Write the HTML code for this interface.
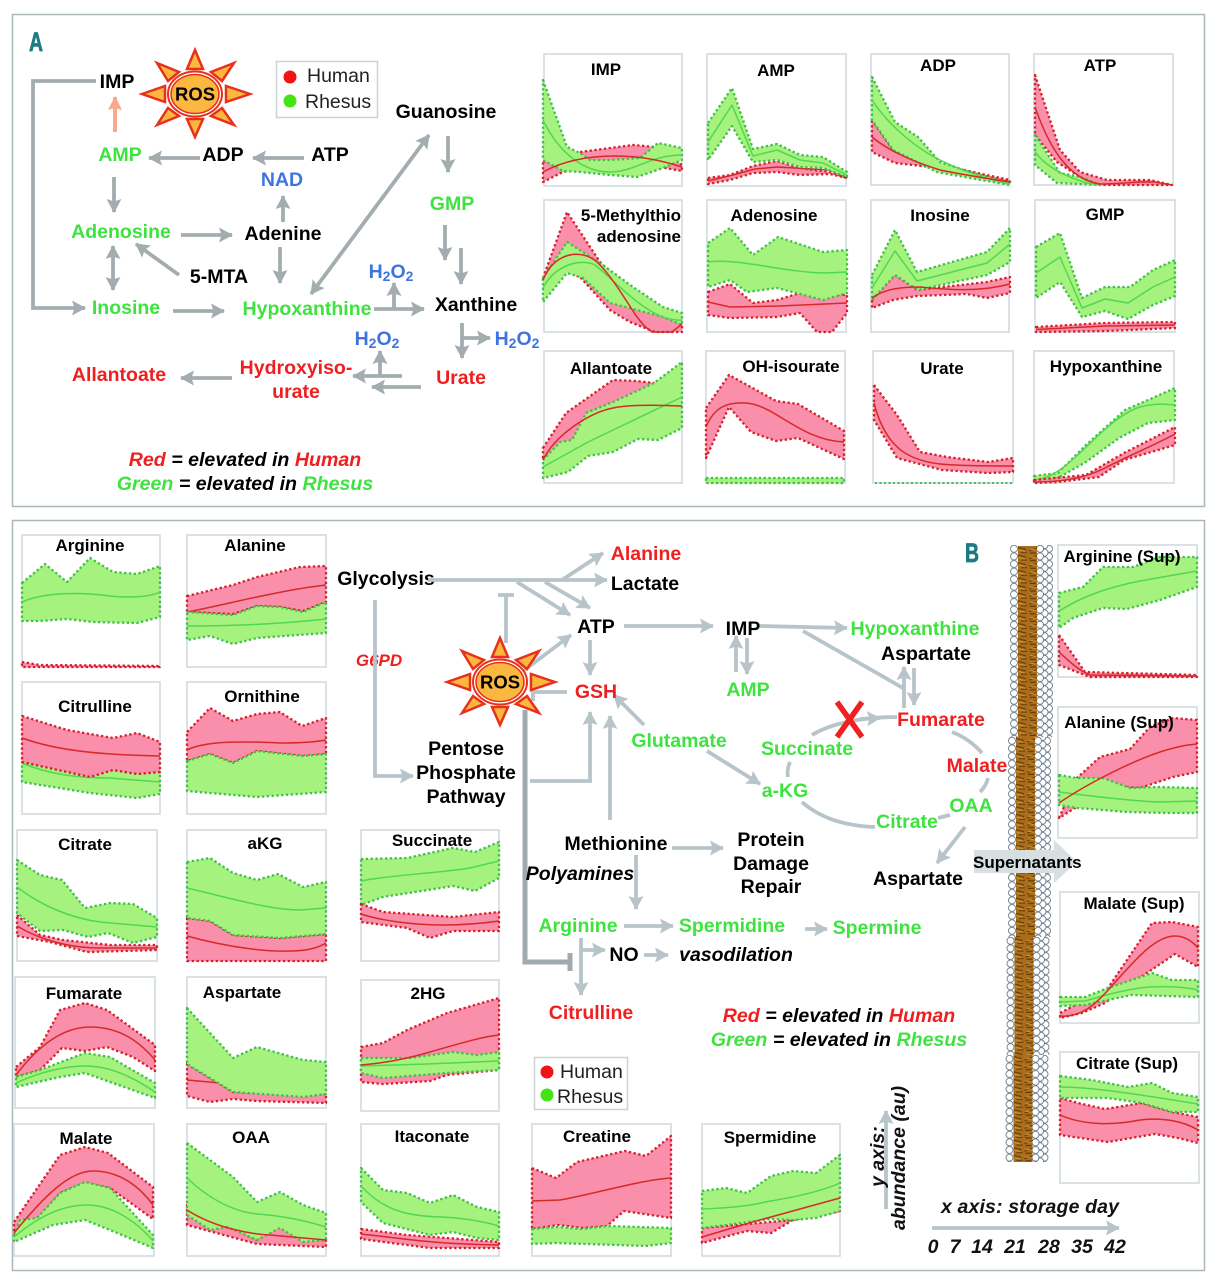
<!DOCTYPE html>
<html><head><meta charset="utf-8"><style>
html,body{margin:0;padding:0;background:#fff}
svg{display:block}
text{font-family:"Liberation Sans",sans-serif;font-weight:bold}
.f{fill:#fff;stroke:#d3dde1;stroke-width:1.7}
.p{fill:#f98fab;stroke:#d81e28;stroke-width:2.300;stroke-dasharray:2.300 2.500;stroke-linejoin:round}
.v{fill:#a6f27e;stroke:#3fc048;stroke-width:2.300;stroke-dasharray:2.300 2.500;stroke-linejoin:round}
.rl{fill:none;stroke:#d62a26;stroke-width:1.500;stroke-linejoin:round}
.gl{fill:none;stroke:#50d850;stroke-width:1.500;stroke-linejoin:round}
.t{font-size:17px;text-anchor:middle;fill:#000}
.n{font-size:19.500px;text-anchor:middle;fill:#000}
.G{fill:#3fe33f}.R{fill:#f01f1f}.U{fill:#3f74e0}.K{fill:#000}
.A{fill:none;stroke:#a3adb0;stroke-width:3.800;marker-end:url(#a)}
.B{fill:none;stroke:#b7c4c9;stroke-width:3.800;marker-end:url(#b)}
.AD{marker-start:url(#a)}
.L{fill:none;stroke:#b7c4c9;stroke-width:3.800}
.e{font-size:19.600px;font-style:italic;text-anchor:middle}
.leg{font-size:19.500px;font-weight:normal;fill:#222}
.ax{font-size:19.500px;font-style:italic;fill:#111}
.sb{font-size:14px}
</style></head><body>
<svg xmlns="http://www.w3.org/2000/svg" width="1219" height="1280" viewBox="0 0 1219 1280">
<defs>
<marker id="a" markerUnits="userSpaceOnUse" markerWidth="15" markerHeight="16" refX="13" refY="8" orient="auto-start-reverse"><path d="M0 0.500L14 8L0 15.500L2.500 8Z" fill="#a3adb0"/></marker>
<marker id="b" markerUnits="userSpaceOnUse" markerWidth="15" markerHeight="16" refX="13" refY="8" orient="auto-start-reverse"><path d="M0 0.500L14 8L0 15.500L2.500 8Z" fill="#b7c4c9"/></marker>
<marker id="o" markerUnits="userSpaceOnUse" markerWidth="16" markerHeight="16" refX="13" refY="8" orient="auto"><path d="M0 1L14 8L0 15L2 8Z" fill="#f8a98c"/></marker>
<g id="sun">
<g fill="#fbb740" stroke="#e8301a" stroke-width="2.500" stroke-linejoin="miter">
<polygon points="0,-44 -8,-25 8,-25"/><polygon points="0,43 -8,25 8,25"/>
<polygon points="-53,0 -30,-8 -30,8"/><polygon points="55,0 31,-8 31,8"/>
<polygon points="39,-31 16,-22 27,-13"/><polygon points="-38,-31 -16,-22 -27,-13"/>
<polygon points="-38,31 -27,14 -16,22"/><polygon points="39,31 27,14 16,22"/>
</g>
<ellipse rx="27" ry="22.500" fill="#fff" stroke="#e8301a" stroke-width="2"/>
<ellipse rx="24" ry="19.500" fill="#fbb740" stroke="#e8301a" stroke-width="1.500"/>
</g>
<pattern id="beads" width="8" height="7.600" patternUnits="userSpaceOnUse"><circle cx="4" cy="3.800" r="3.500" fill="#fff" stroke="#6b7d8c" stroke-width=".9"/></pattern>
<pattern id="beadsR" width="17" height="7.600" patternUnits="userSpaceOnUse">
<circle cx="13" cy="3.800" r="3.500" fill="#fff" stroke="#6b7d8c" stroke-width=".9"/>
<circle cx="8.500" cy="0" r="3.500" fill="#fff" stroke="#6b7d8c" stroke-width=".9"/>
<circle cx="8.500" cy="7.600" r="3.500" fill="#fff" stroke="#6b7d8c" stroke-width=".9"/>
<circle cx="4" cy="3.800" r="3.500" fill="#fff" stroke="#6b7d8c" stroke-width=".9"/></pattern>
<pattern id="stripes" width="20" height="7.600" patternUnits="userSpaceOnUse"><rect width="20" height="7.600" fill="#ab6c1c"/><path d="M0 1.500L8 3.500M11 5L19 2M3 6.500L9 6.500M12 7L18 7" stroke="#5f3c08" stroke-width="1.100"/><path d="M1 4L7 5.500M12 3L18 4" stroke="#cfa43a" stroke-width=".8"/></pattern>
</defs>

<rect width="1219" height="1280" fill="#fff"/>
<rect x="12.500" y="14.500" width="1192" height="492" fill="none" stroke="#aab7bb" stroke-width="1.500"/>
<rect x="12.500" y="520.500" width="1192" height="750" fill="none" stroke="#aab7bb" stroke-width="1.500"/>

<!-- Panel A diagram -->
<text x="29" y="51" font-size="27" fill="#1b7a82" stroke="#1b7a82" stroke-width=".7" textLength="14" lengthAdjust="spacingAndGlyphs">A</text>
<use href="#sun" x="195" y="94"/>
<text x="195" y="100.500" font-size="18.500" text-anchor="middle">ROS</text>
<rect x="276.500" y="61.500" width="101" height="56" fill="#fff" stroke="#ccd2d4" stroke-width="1.500"/>
<circle cx="290" cy="77" r="6.500" fill="#f01414"/><circle cx="290" cy="101" r="6.500" fill="#44e414"/>
<text class="leg" x="307" y="82">Human</text><text class="leg" x="305" y="108">Rhesus</text>

<polyline class="A" points="96,81 33,81 33,308 85,308"/>
<line x1="115" y1="132" x2="115" y2="97" stroke="#f8a98c" stroke-width="4" marker-end="url(#o)"/>
<line class="A" x1="200" y1="158" x2="149" y2="158"/>
<line class="A" x1="304" y1="158" x2="253" y2="158"/>
<line class="A" x1="114" y1="177" x2="114" y2="212"/>
<line class="A" x1="283" y1="222" x2="283" y2="196"/>
<line class="A" x1="181" y1="235" x2="232" y2="235"/>
<line class="A" x1="280" y1="247" x2="280" y2="283"/>
<line class="A" x1="179" y1="275" x2="136" y2="244"/>
<line class="A AD" x1="113" y1="246" x2="113" y2="290"/>
<line class="A" x1="173" y1="311" x2="224" y2="311"/>
<line class="A AD" x1="429" y1="135" x2="311" y2="294"/>
<line class="A" x1="448" y1="136" x2="448" y2="172"/>
<line class="A" x1="445" y1="225" x2="445" y2="260"/>
<line class="A" x1="461" y1="248" x2="461" y2="284"/>
<line class="A" x1="374" y1="309" x2="424" y2="309"/>
<line class="A" x1="394" y1="309" x2="394" y2="283"/>
<line class="A" x1="462" y1="323" x2="462" y2="358"/>
<line class="A" x1="462" y1="338" x2="490" y2="338"/>
<line class="A" x1="421" y1="387" x2="372" y2="387"/>
<line class="A" x1="402" y1="376" x2="353" y2="376"/>
<line class="A" x1="380" y1="376" x2="380" y2="351"/>
<line class="A" x1="232" y1="378" x2="181" y2="378"/>

<text class="n" x="117" y="88">IMP</text>
<text class="n G" x="120" y="161">AMP</text>
<text class="n" x="223" y="161">ADP</text>
<text class="n" x="330" y="161">ATP</text>
<text class="n U" x="282" y="186">NAD</text>
<text class="n" x="446" y="118">Guanosine</text>
<text class="n G" x="452" y="210">GMP</text>
<text class="n G" x="121" y="238">Adenosine</text>
<text class="n" x="283" y="240">Adenine</text>
<text class="n" x="219" y="283">5-MTA</text>
<text class="n G" x="126" y="314">Inosine</text>
<text class="n G" x="307" y="315">Hypoxanthine</text>
<text class="n" x="476" y="311">Xanthine</text>
<text class="n U" x="391" y="278">H<tspan class="sb" dy="3">2</tspan><tspan dy="-3">O</tspan><tspan class="sb" dy="3">2</tspan></text>
<text class="n U" x="377" y="345">H<tspan class="sb" dy="3">2</tspan><tspan dy="-3">O</tspan><tspan class="sb" dy="3">2</tspan></text>
<text class="n U" x="517" y="345">H<tspan class="sb" dy="3">2</tspan><tspan dy="-3">O</tspan><tspan class="sb" dy="3">2</tspan></text>
<text class="n R" x="119" y="381">Allantoate</text>
<text class="n R" x="296" y="374">Hydroxyiso-</text>
<text class="n R" x="296" y="398">urate</text>
<text class="n R" x="461" y="384">Urate</text>
<text class="e" x="245" y="466"><tspan class="R">Red</tspan> = elevated in <tspan class="R">Human</tspan></text>
<text class="e" x="245" y="490"><tspan class="G">Green</tspan> = elevated in <tspan class="G">Rhesus</tspan></text>

<!-- Panel A charts -->
<rect class="f" x="544" y="54" width="138" height="132"/>
<polygon class="p" points="543,162 580,152 633,145 655,147 682,165 682,171 665,168 600,165 563,172 543,182"/>
<polygon class="v" points="543,80 567,147 580,153 590,160 610,160 640,158 658,143 682,148 682,160 663,168 637,177 610,175 580,172 563,171 543,160"/>
<path class="gl" d="M543,120C560,155 585,172 610,172C635,172 650,155 682,155"/><path class="rl" d="M543,172C565,160 590,156 615,156C640,156 660,160 682,167"/>
<text class="t" x="606" y="75">IMP</text>

<rect class="f" x="707" y="54" width="139" height="132"/>
<polygon class="p" points="708,178 730,175 753,166 777,161 800,168 830,172 847,178 830,174 800,175 777,172 753,173 730,180 708,184"/>
<polyline class="rl" points="708,181 733,175 755,169 777,167 830,170 847,177"/>
<polygon class="v" points="708,123 732,88 753,149 777,144 800,155 823,157 847,172 847,177 823,168 800,167 777,160 753,162 732,126 708,160"/>
<polyline class="gl" points="708,142 732,105 753,156 777,150 800,160 823,163 847,175"/>
<text class="t" x="776" y="76">AMP</text>

<rect class="f" x="871" y="54" width="138" height="131"/>
<polygon class="p" points="872,120 893,150 917,160 1010,180 1010,182 940,168 895,163 872,152"/>
<polygon class="v" points="872,77 895,122 918,137 940,162 970,172 1010,183 1010,185 970,178 937,172 917,162 893,150 872,120"/>
<path class="gl" d="M872,100C885,120 910,145 940,160C965,172 990,180 1010,184"/>
<path class="rl" d="M872,137C890,152 915,162 940,170C965,175 990,179 1010,182"/>
<text class="t" x="938" y="71">ADP</text>

<rect class="f" x="1034" y="54" width="139" height="131"/>
<polygon class="p" points="1035,75 1060,150 1080,172 1107,180 1150,180 1172,185 1100,185 1080,177 1057,162 1035,135"/>
<polygon class="v" points="1035,135 1060,173 1080,177 1100,185 1057,183 1035,165"/>
<path class="gl" d="M1035,152C1045,165 1060,175 1087,183L1100,185"/>
<path class="rl" d="M1035,107C1050,150 1070,180 1100,184C1120,184 1140,181 1155,182L1172,185"/>
<text class="t" x="1100" y="71">ATP</text>

<rect class="f" x="544" y="200" width="138" height="132"/>
<polygon class="p" points="543,278 567,212 600,262 640,300 682,325 682,332 655,332 630,322 610,310 580,277 565,270 543,280"/>
<polygon class="v" points="543,278 567,242 600,263 633,287 663,307 682,313 682,325 663,317 637,310 610,303 583,278 567,273 543,302"/>
<path class="gl" d="M543,288C555,265 580,258 595,265C620,285 650,322 682,320"/>
<path class="rl" d="M543,280C555,250 585,248 600,265C625,292 635,322 652,332L672,332L682,324"/>
<text class="t" x="681" y="221" style="text-anchor:end">5-Methylthio</text>
<text class="t" x="681" y="242" style="text-anchor:end">adenosine</text>

<rect class="f" x="707" y="200" width="139" height="132"/>
<polygon class="p" points="708,292 730,284 753,303 777,300 800,293 847,295 847,313 832,332 817,332 800,313 777,317 730,318 708,315"/>
<polyline class="rl" points="708,302 730,307 780,306 847,303"/>
<polygon class="v" points="708,243 730,228 753,255 778,237 823,252 847,250 847,293 823,300 777,288 747,292 730,280 708,287"/>
<path class="gl" d="M708,262C740,258 780,272 825,273L847,272"/>
<text class="t" x="774" y="221">Adenosine</text>

<rect class="f" x="871" y="200" width="138" height="132"/>
<polygon class="p" points="872,300 895,275 917,290 987,282 1010,277 1010,293 987,298 967,294 917,296 893,300 872,308"/>
<polygon class="v" points="872,275 895,230 917,272 987,252 1010,228 1010,262 987,275 918,290 895,275 872,300"/>
<polyline class="gl" points="872,288 895,251 917,281 987,263 1010,244"/>
<path class="rl" d="M872,298C885,288 905,287 920,287C950,290 980,292 1010,284"/>
<text class="t" x="940" y="221">Inosine</text>

<rect class="f" x="1035" y="200" width="140" height="132"/>
<polygon class="v" points="1036,247 1060,233 1082,298 1105,287 1130,287 1153,270 1175,260 1175,296 1153,305 1128,319 1105,311 1082,317 1060,282 1036,298"/>
<polyline class="gl" points="1036,273 1060,257 1082,308 1105,299 1128,303 1153,287 1175,277"/>
<polygon class="p" points="1036,327 1105,323 1175,322 1175,328 1105,331 1036,332"/>
<polyline class="rl" points="1036,329.500 1105,326 1175,325"/>
<text class="t" x="1105" y="220">GMP</text>

<rect class="f" x="544" y="351" width="138" height="132"/>
<polygon class="p" points="543,448 566,413 613,380 636,381 654,383 640,420 586,415 572,442 543,458"/>
<polygon class="v" points="543,460 560,442 572,440 586,413 613,402 654,383 682,362 682,428 658,440 638,439 613,452 588,456 568,472 543,478"/>
<polyline class="gl" points="543,467 588,442 682,397"/>
<path class="rl" d="M543,460C555,435 590,412 613,408C630,404 660,405 682,406"/>
<text class="t" x="611" y="374">Allantoate</text>

<rect class="f" x="706" y="351" width="139" height="132"/>
<polygon class="p" points="706,408 729,375 776,401 798,404 844,431 844,459 798,438 776,441 751,432 729,407 706,458"/>
<path class="rl" d="M706,427C715,405 730,402 746,403C775,405 800,440 844,442"/>
<polygon class="v" points="706,478 844,478 844,483 706,483"/>
<text class="t" x="791" y="372">OH-isourate</text>

<rect class="f" x="873" y="351" width="140" height="132"/>
<polygon class="p" points="874,385 897,415 920,452 947,457 988,462 1013,458 1013,472 988,473 942,470 897,458 874,420"/>
<path class="rl" d="M874,403C885,445 905,460 940,464C960,466 990,466 1013,466"/>
<line x1="875" y1="483" x2="1013" y2="483" stroke="#3fc048" stroke-width="2" stroke-dasharray="2 2.500"/>
<text class="t" x="942" y="374">Urate</text>

<rect class="f" x="1034" y="351" width="140" height="132"/>
<polygon class="v" points="1034,476 1058,473 1086,445 1125,410 1148,400 1175,388 1175,420 1148,423 1119,438 1086,462 1058,478 1034,482"/>
<path class="gl" d="M1034,480C1070,478 1100,420 1140,407C1155,403 1165,404 1175,405"/>
<polygon class="p" points="1034,480 1086,475 1124,453 1175,427 1175,445 1124,460 1099,477 1058,482 1034,483"/>
<path class="rl" d="M1034,482C1060,482 1086,478 1105,468C1130,455 1155,445 1175,434"/>
<text class="t" x="1106" y="372">Hypoxanthine</text>

<!-- Panel B diagram -->
<text x="965" y="562" font-size="27" fill="#1b7a82" stroke="#1b7a82" stroke-width=".7" textLength="14" lengthAdjust="spacingAndGlyphs">B</text>

<text class="n" x="386" y="585">Glycolysis</text>
<text x="379" y="666" font-size="17" font-style="italic" text-anchor="middle" class="R">G6PD</text>

<line class="B" x1="428" y1="580" x2="607" y2="580"/>
<line class="B" x1="562" y1="580" x2="603" y2="553"/>
<line class="B" x1="517" y1="582" x2="570" y2="615"/>
<line class="B" x1="545" y1="582" x2="590" y2="608"/>
<path class="L" d="M506,643V595M498,595H514"/>
<line class="B" x1="522" y1="672" x2="571" y2="635"/>
<line class="B" x1="590" y1="640" x2="590" y2="675"/>
<path class="L" d="M567,692H534M533,682V701"/>
<path d="M525,710V962H570M570,953V971" fill="none" stroke="#9fabaf" stroke-width="5"/>
<polyline class="B" points="375,600 375,776 413,776"/>
<polyline class="B" points="530,781 590,781 590,712"/>
<line class="B" x1="610" y1="820" x2="610" y2="716"/>
<line class="B" x1="644" y1="725" x2="614" y2="695"/>
<line class="B" x1="707" y1="751" x2="760" y2="784"/>
<line class="B" x1="624" y1="626" x2="713" y2="626"/>
<line class="B" x1="760" y1="626" x2="847" y2="628"/>
<line class="L" x1="803" y1="631" x2="903" y2="688"/>
<line class="B" x1="904" y1="708" x2="904" y2="667"/>
<line class="B" x1="914" y1="668" x2="914" y2="705"/>
<line class="B" x1="736" y1="672" x2="736" y2="636"/>
<line class="B" x1="747" y1="638" x2="747" y2="674"/>
<path class="L" d="M812,735C830,724 860,717 897,717"/>
<path class="B" d="M860,719L880,718"/>
<path class="L" d="M788,777C787,771 788,767 790,762"/>
<path class="L" d="M802,802C820,818 845,826 875,827"/>
<path class="L" d="M938,818L950,815"/>
<path class="L" d="M980,792C984,788 987,783 988,778"/>
<path class="L" d="M952,732C965,737 975,745 982,753"/>
<line class="B" x1="965" y1="827" x2="937" y2="863"/>
<line class="B" x1="672" y1="848" x2="723" y2="848"/>
<line class="B" x1="636" y1="855" x2="636" y2="909"/>
<line class="B" x1="624" y1="926" x2="673" y2="926"/>
<line class="B" x1="805" y1="929" x2="827" y2="929"/>
<line class="B" x1="581" y1="938" x2="581" y2="995"/>
<line class="B" x1="581" y1="950" x2="605" y2="950"/>
<line class="B" x1="644" y1="955" x2="668" y2="955"/>
<path d="M837,702L862,737M862,702L837,737" stroke="#f02020" stroke-width="5.500" fill="none"/>

<use href="#sun" x="500" y="682"/>
<text x="500" y="688.500" font-size="18.500" text-anchor="middle">ROS</text>

<text class="n R" x="646" y="560">Alanine</text>
<text class="n" x="645" y="590">Lactate</text>
<text class="n" x="596" y="633">ATP</text>
<text class="n R" x="596" y="698">GSH</text>
<text class="n" x="466" y="755">Pentose</text><text class="n" x="466" y="779">Phosphate</text><text class="n" x="466" y="803">Pathway</text>
<text class="n" x="743" y="635">IMP</text>
<text class="n G" x="915" y="635">Hypoxanthine</text>
<text class="n" x="926" y="660">Aspartate</text>
<text class="n G" x="748" y="696">AMP</text>
<text class="n R" x="941" y="726">Fumarate</text>
<text class="n G" x="807" y="755">Succinate</text>
<text class="n G" x="679" y="747">Glutamate</text>
<text class="n G" x="785" y="797">a-KG</text>
<text class="n R" x="977" y="772">Malate</text>
<text class="n G" x="907" y="828">Citrate</text>
<text class="n G" x="971" y="812">OAA</text>
<text class="n" x="918" y="885">Aspartate</text>
<text class="n" x="771" y="846">Protein</text><text class="n" x="771" y="870">Damage</text><text class="n" x="771" y="893">Repair</text>
<text class="n" x="616" y="850">Methionine</text>
<text class="n" x="580" y="880" font-style="italic">Polyamines</text>
<text class="n G" x="578" y="932">Arginine</text>
<text class="n G" x="732" y="932">Spermidine</text>
<text class="n G" x="877" y="934">Spermine</text>
<text class="n" x="624" y="961">NO</text>
<text class="n" x="736" y="961" font-style="italic">vasodilation</text>
<text class="n R" x="591" y="1019">Citrulline</text>
<text class="e" x="839" y="1022"><tspan class="R">Red</tspan> = elevated in <tspan class="R">Human</tspan></text>
<text class="e" x="839" y="1046"><tspan class="G">Green</tspan> = elevated in <tspan class="G">Rhesus</tspan></text>

<rect x="534.500" y="1057.500" width="93" height="52" fill="#fff" stroke="#ccd2d4" stroke-width="1.500"/>
<circle cx="547" cy="1072" r="6.500" fill="#f01414"/><circle cx="547" cy="1095" r="6.500" fill="#44e414"/>
<text class="leg" x="560" y="1078">Human</text><text class="leg" x="557" y="1103">Rhesus</text>

<line class="B" x1="886" y1="1209" x2="886" y2="1111"/>
<text class="ax" transform="translate(884,1187) rotate(-90)">y axis:</text>
<text class="ax" transform="translate(905,1230) rotate(-90)">abundance (au)</text>
<text class="ax" x="941" y="1213" textLength="178">x axis: storage day</text>
<line class="B" x1="932" y1="1228" x2="1119" y2="1228"/>
<text class="ax" x="933" y="1253" text-anchor="middle">0</text><text class="ax" x="955" y="1253" text-anchor="middle">7</text><text class="ax" x="982" y="1253" text-anchor="middle">14</text><text class="ax" x="1015" y="1253" text-anchor="middle">21</text><text class="ax" x="1049" y="1253" text-anchor="middle">28</text><text class="ax" x="1082" y="1253" text-anchor="middle">35</text><text class="ax" x="1115" y="1253" text-anchor="middle">42</text>

<!-- Column -->
<g transform="translate(1010,545)"><rect width="8" height="192" fill="url(#beads)"/></g>
<g transform="translate(1036,545)"><rect width="17" height="192" fill="url(#beadsR)"/></g>
<g transform="translate(1018,546)"><rect width="19" height="191" fill="url(#stripes)"/></g>
<g transform="translate(1008,737)"><rect width="8" height="200" fill="url(#beads)"/></g>
<g transform="translate(1034,737)"><rect width="17" height="200" fill="url(#beadsR)"/></g>
<g transform="translate(1016,737)"><rect width="19" height="200" fill="url(#stripes)"/></g>
<g transform="translate(1006.500,937)"><rect width="8" height="118" fill="url(#beads)"/></g>
<g transform="translate(1032.500,937)"><rect width="17" height="118" fill="url(#beadsR)"/></g>
<g transform="translate(1014.500,937)"><rect width="19" height="118" fill="url(#stripes)"/></g>
<g transform="translate(1005.500,1055)"><rect width="8" height="107" fill="url(#beads)"/></g>
<g transform="translate(1031.500,1055)"><rect width="17" height="107" fill="url(#beadsR)"/></g>
<g transform="translate(1013.500,1055)"><rect width="19" height="107" fill="url(#stripes)"/></g>

<polygon points="974,850 1054,850 1054,840 1077,862 1054,883 1054,873 974,873" fill="#d7dfe1"/>
<text x="973" y="868" font-size="17">Supernatants</text>

<!-- Panel B charts -->
<rect class="f" x="22" y="535" width="138" height="132"/>
<polygon class="v" points="22,583 45,564 67,582 90,558 113,572 137,574 160,566 160,617 137,623 93,622 67,619 40,621 22,621"/>
<path class="gl" d="M22,602C45,592 80,592 110,596C130,598 150,597 160,592"/>
<polygon class="p" points="22,662 40,665 160,666 160,667 22,667"/>
<text class="t" x="90" y="551">Arginine</text>

<rect class="f" x="187" y="535" width="139" height="132"/>
<polygon class="p" points="187,596 233,585 257,577 300,567 326,566 326,602 303,611 280,607 257,606 233,614 187,612"/>
<path class="rl" d="M187,612C220,606 280,590 326,585"/>
<polygon class="v" points="187,612 233,615 257,606 280,607 303,612 326,602 326,633 257,638 233,644 210,636 187,640"/>
<path class="gl" d="M187,626C230,626 280,624 326,619"/>
<text class="t" x="255" y="551">Alanine</text>

<rect class="f" x="22" y="682" width="138" height="132"/>
<polygon class="v" points="22,762 90,777 113,770 137,774 160,772 160,794 137,798 90,793 22,782"/>
<path class="gl" d="M22,763C50,775 80,778 110,778L160,782"/>
<polygon class="p" points="22,716 67,730 113,738 137,733 160,742 160,772 137,774 113,770 90,777 22,762"/>
<path class="rl" d="M22,738C60,752 110,755 160,756"/>
<text class="t" x="95" y="712">Citrulline</text>

<rect class="f" x="187" y="682" width="139" height="132"/>
<polygon class="p" points="187,732 210,708 233,721 257,714 280,712 302,726 326,718 326,754 303,756 257,751 233,763 210,754 187,761"/>
<path class="rl" d="M187,750C205,741 240,741 280,743C300,743 315,742 326,740"/>
<polygon class="v" points="187,761 210,754 233,763 257,751 303,756 326,754 326,792 257,797 187,791"/>
<text class="t" x="262" y="702">Ornithine</text>

<rect class="f" x="17" y="830" width="140" height="131"/>
<polygon class="p" points="17,915 40,935 63,940 110,945 157,945 157,950 87,952 50,942 17,936"/>
<polygon class="v" points="17,860 40,875 62,880 85,908 110,903 133,904 157,918 157,937 133,943 108,933 88,937 63,930 40,931 17,913"/>
<path class="gl" d="M17,887C40,905 70,918 100,922L157,927"/>
<path class="rl" d="M17,926C40,940 70,948 100,948L157,948"/>
<text class="t" x="85" y="850">Citrate</text>

<rect class="f" x="187" y="830" width="139" height="131"/>
<polygon class="p" points="187,918 210,921 233,935 280,938 326,934 326,961 187,961"/>
<path class="rl" d="M187,936C230,948 270,952 290,951C305,951 318,948 326,943"/>
<polygon class="v" points="187,862 210,858 233,873 257,880 278,874 303,887 326,882 326,934 280,938 233,935 210,921 187,918"/>
<path class="gl" d="M187,888C230,898 270,910 300,910L326,908"/>
<text class="t" x="265" y="849">aKG</text>

<rect class="f" x="361" y="830" width="138" height="131"/>
<polygon class="v" points="361,859 407,858 453,848 475,852 499,842 499,878 475,891 453,886 383,897 361,905"/>
<path class="gl" d="M361,881C390,875 440,873 470,868L499,861"/>
<polygon class="p" points="361,904 383,912 453,917 499,912 499,931 453,931 430,938 407,928 361,922"/>
<path class="rl" d="M361,914C385,922 420,925 443,925C465,925 485,923 499,921"/>
<text class="t" x="432" y="846">Succinate</text>

<rect class="f" x="15" y="977" width="140" height="131"/>
<polygon class="p" points="16,1067 40,1047 60,1010 85,1003 107,1010 155,1045 155,1071 133,1057 107,1047 85,1051 62,1048 40,1070 16,1077"/>
<path class="rl" d="M16,1075C35,1050 60,1027 90,1027C120,1027 140,1042 155,1060"/>
<polygon class="v" points="16,1077 40,1070 85,1053 110,1057 155,1083 155,1098 110,1082 85,1073 60,1077 16,1087"/>
<path class="gl" d="M16,1083C40,1072 65,1066 85,1066C115,1066 140,1082 155,1092"/>
<text class="t" x="84" y="999">Fumarate</text>

<rect class="f" x="187" y="977" width="139" height="131"/>
<polygon class="p" points="187,1064 233,1092 326,1094 326,1103 257,1101 233,1099 210,1102 187,1096"/>
<polyline class="rl" points="187,1080 220,1083"/>
<polygon class="v" points="187,1008 233,1058 257,1047 303,1060 326,1062 326,1094 303,1097 233,1092 187,1064"/>
<text class="t" x="242" y="998">Aspartate</text>

<rect class="f" x="361" y="980" width="138" height="131"/>
<polygon class="p" points="361,1047 383,1043 407,1030 447,1013 499,998 499,1070 447,1075 430,1081 383,1084 361,1082"/>
<polygon class="v" points="361,1058 410,1058 453,1052 477,1055 499,1052 499,1070 447,1073 383,1078 361,1073"/>
<polyline class="gl" points="361,1066 427,1064 499,1061"/>
<path class="rl" d="M361,1065C385,1063 410,1058 430,1052C455,1045 480,1037 499,1035"/>
<text class="t" x="428" y="999">2HG</text>

<rect class="f" x="14" y="1124" width="140" height="132"/>
<polygon class="p" points="14,1222 60,1155 85,1147 108,1153 153,1187 153,1219 110,1188 85,1183 60,1193 37,1220 14,1233"/>
<polygon class="v" points="14,1235 20,1220 37,1218 60,1193 85,1182 110,1188 153,1235 153,1248 110,1230 85,1220 53,1225 14,1242"/>
<path class="rl" d="M14,1233C45,1195 70,1171 93,1171C120,1171 140,1187 153,1205"/>
<path class="gl" d="M14,1237C40,1215 65,1205 87,1205C115,1205 140,1225 153,1241"/>
<text class="t" x="86" y="1144">Malate</text>

<rect class="f" x="187" y="1124" width="139" height="132"/>
<polygon class="p" points="187,1205 257,1240 280,1225 326,1240 326,1247 257,1244 187,1225"/>
<polygon class="v" points="187,1143 233,1177 257,1202 280,1192 303,1205 326,1213 326,1240 303,1242 280,1228 257,1240 227,1227 210,1230 187,1215"/>
<path class="gl" d="M187,1178C210,1200 235,1212 257,1214C285,1216 310,1222 326,1227"/>
<path class="rl" d="M187,1210C215,1228 250,1234 270,1235L326,1240"/>
<text class="t" x="251" y="1143">OAA</text>

<rect class="f" x="361" y="1124" width="138" height="132"/>
<polygon class="v" points="361,1168 383,1190 407,1193 430,1203 453,1195 477,1207 499,1212 499,1240 477,1238 453,1232 430,1235 383,1223 361,1202"/>
<path class="gl" d="M361,1186C385,1212 410,1216 440,1217C465,1218 485,1222 499,1226"/>
<polygon class="p" points="361,1229 407,1235 499,1242 499,1248 430,1248 361,1239"/>
<path class="rl" d="M361,1234C400,1238 430,1244 499,1245"/>
<text class="t" x="432" y="1142">Itaconate</text>

<rect class="f" x="532" y="1124" width="139" height="132"/>
<polygon class="p" points="532,1168 556,1178 577,1162 625,1151 646,1156 671,1136 671,1218 624,1211 607,1226 583,1228 558,1225 532,1229"/>
<path class="rl" d="M532,1201L560,1200C590,1195 640,1180 671,1178"/>
<polygon class="v" points="532,1229 558,1227 583,1229 607,1226 671,1228 671,1243 646,1246 556,1243 532,1244"/>
<text class="t" x="597" y="1142">Creatine</text>

<rect class="f" x="702" y="1124" width="138" height="132"/>
<polygon class="p" points="702,1228 793,1220 840,1211 793,1220 771,1233 747,1231 702,1243"/>
<polygon class="v" points="702,1191 726,1188 747,1193 771,1176 793,1171 816,1173 840,1155 840,1211 816,1218 793,1220 771,1219 726,1225 702,1228"/>
<path class="gl" d="M702,1209C730,1208 750,1206 765,1202C790,1198 820,1192 840,1183"/>
<polyline class="rl" points="702,1237 749,1223 840,1198"/>
<text class="t" x="770" y="1143">Spermidine</text>

<rect class="f" x="1058" y="545" width="139" height="132"/>
<polygon class="v" points="1059,593 1083,587 1103,567 1133,567 1160,557 1197,557 1197,587 1160,600 1127,609 1103,608 1073,618 1059,628"/>
<path class="gl" d="M1059,611C1085,595 1110,587 1140,581L1197,571"/>
<polygon class="p" points="1059,635 1085,672 1197,675 1197,677 1090,677 1059,665"/>
<path class="rl" d="M1059,652C1070,662 1078,670 1090,675L1197,676"/>
<text class="t" x="1122" y="562">Arginine (Sup)</text>

<rect class="f" x="1058" y="707" width="139" height="131"/>
<polygon class="p" points="1059,818 1077,778 1100,757 1130,749 1150,727 1173,718 1197,720 1197,772 1173,777 1140,788 1120,787 1075,808"/>
<polygon class="v" points="1059,775 1077,778 1103,778 1130,788 1157,787 1197,788 1197,813 1167,813 1127,812 1077,808 1059,805"/>
<path class="gl" d="M1059,792C1090,796 1130,801 1160,802L1197,801"/>
<path class="rl" d="M1059,803C1085,785 1130,762 1160,752C1175,747 1185,745 1197,744"/>
<text class="t" x="1119" y="728">Alanine (Sup)</text>

<rect class="f" x="1060" y="892" width="139" height="131"/>
<polygon class="p" points="1060,1013 1108,988 1152,923 1172,922 1198,927 1198,967 1175,954 1132,983 1105,1003 1082,1013 1060,1018"/>
<polygon class="v" points="1060,997 1085,997 1108,988 1152,973 1172,980 1198,980 1198,997 1132,995 1108,1000 1085,1005 1060,1006"/>
<path class="gl" d="M1060,1002L1085,1001C1105,995 1130,988 1150,987C1170,986 1185,987 1198,990"/>
<path class="rl" d="M1060,1016C1080,1018 1095,1005 1110,988C1135,960 1155,936 1175,936C1185,936 1192,941 1198,948"/>
<text class="t" x="1134" y="909">Malate (Sup)</text>

<rect class="f" x="1060" y="1052" width="139" height="131"/>
<polygon class="p" points="1060,1098 1078,1103 1105,1109 1142,1103 1172,1112 1198,1117 1198,1143 1178,1138 1155,1134 1108,1142 1060,1135"/>
<path class="rl" d="M1060,1115C1085,1126 1115,1125 1140,1120C1165,1117 1185,1122 1198,1130"/>
<polygon class="v" points="1060,1076 1092,1080 1128,1087 1152,1083 1172,1093 1198,1097 1198,1112 1172,1112 1142,1103 1108,1098 1060,1098"/>
<path class="gl" d="M1060,1087C1090,1087 1130,1093 1198,1104"/>
<text class="t" x="1127" y="1069">Citrate (Sup)</text>
</svg>
</body></html>
